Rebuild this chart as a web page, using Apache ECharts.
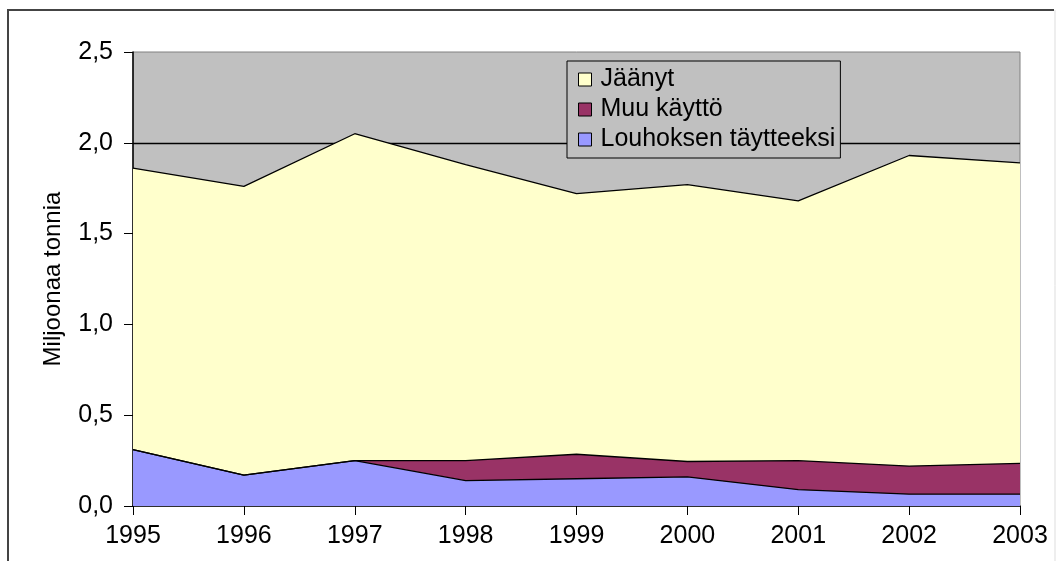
<!DOCTYPE html>
<html>
<head>
<meta charset="utf-8">
<script src="https://cdn.jsdelivr.net/npm/echarts@6/dist/echarts.min.js"></script>
<style>
  html, body { margin: 0; padding: 0; background: #fff; }
  #chart { width: 1056px; height: 561px; }
</style>
</head>
<body>
<div id="chart"></div>
<script>
// vuodet
const years = ['1995', '1996', '1997', '1998', '1999', '2000', '2001', '2002', '2003']
// Louhoksen täytteeksi (alin kerros)
const louhos = [0.31, 0.17, 0.25, 0.14, 0.15, 0.16, 0.09, 0.065, 0.065]
// Muu käyttö
const muu = [0, 0, 0, 0.11, 0.135, 0.085, 0.16, 0.155, 0.17]
// Jäänyt
const jaanyt = [1.55, 1.59, 1.80, 1.63, 1.435, 1.525, 1.43, 1.71, 1.655]
const legendNames = ['Jäänyt', 'Muu käyttö', 'Louhoksen täytteeksi']

const font = 'Liberation Sans, Arial, sans-serif'
const chart = echarts.init(document.getElementById('chart'))

function areaSeries(name, data, color) {
  return {
    name: name,
    type: 'line',
    stack: 'total',
    symbol: 'none',
    data: data,
    itemStyle: { color: color },
    lineStyle: { color: '#000', width: 1.3 },
    areaStyle: { color: color, opacity: 1 }
  }
}

const option = {
  animation: false,
  textStyle: { fontFamily: font },
  graphic: [
    {
      type: 'polyline',
      shape: { points: [[8, 561], [8, 10], [1054, 10]] },
      style: { stroke: '#444', lineWidth: 2, fill: null }
    },
    {
      type: 'line',
      shape: { x1: 1055, y1: 10, x2: 1055, y2: 561 },
      style: { stroke: '#ddd', lineWidth: 1 }
    }
  ],
  grid: {
    left: 133,
    right: 36,
    top: 52,
    bottom: 55,
    show: true,
    backgroundColor: '#C0C0C0',
    borderColor: '#808080',
    borderWidth: 1
  },
  legend: {
    data: legendNames,
    orient: 'vertical',
    left: 567,
    top: 61,
    padding: [6, 5, 6, 11],
    itemGap: 5,
    itemWidth: 13,
    itemHeight: 13,
    icon: 'rect',
    backgroundColor: '#C0C0C0',
    borderColor: '#000',
    borderWidth: 1,
    itemStyle: { borderColor: '#000', borderWidth: 1 },
    textStyle: { color: '#000', fontSize: 25, fontFamily: font, padding: [0, 0, 0, 4] }
  },
  xAxis: {
    type: 'category',
    boundaryGap: false,
    data: years,
    axisLine: { lineStyle: { color: '#000', width: 1.5 } },
    axisTick: { length: 9, lineStyle: { color: '#000' } },
    axisLabel: { color: '#000', fontSize: 25, margin: 18, interval: 0 },
    splitLine: { show: false }
  },
  yAxis: {
    type: 'value',
    min: 0,
    max: 2.5,
    interval: 0.5,
    name: 'Miljoonaa tonnia',
    nameLocation: 'middle',
    nameGap: 68,
    nameTextStyle: { color: '#000', fontSize: 24 },
    axisLine: { show: true, lineStyle: { color: '#000', width: 1.5 } },
    axisTick: { show: true, length: 9, lineStyle: { color: '#000' } },
    axisLabel: {
      color: '#000',
      fontSize: 25,
      margin: 20,
      formatter: v => v.toFixed(1).replace('.', ',')
    },
    splitLine: {
      show: true,
      showMinLine: false,
      showMaxLine: false,
      lineStyle: { color: '#000', width: 1.3 }
    }
  },
  series: [
    areaSeries('Louhoksen täytteeksi', louhos, '#9999FF'),
    areaSeries('Muu käyttö', muu, '#993366'),
    areaSeries('Jäänyt', jaanyt, '#FFFFCC')
  ]
}

chart.setOption(option, true)
</script>
</body>
</html>
